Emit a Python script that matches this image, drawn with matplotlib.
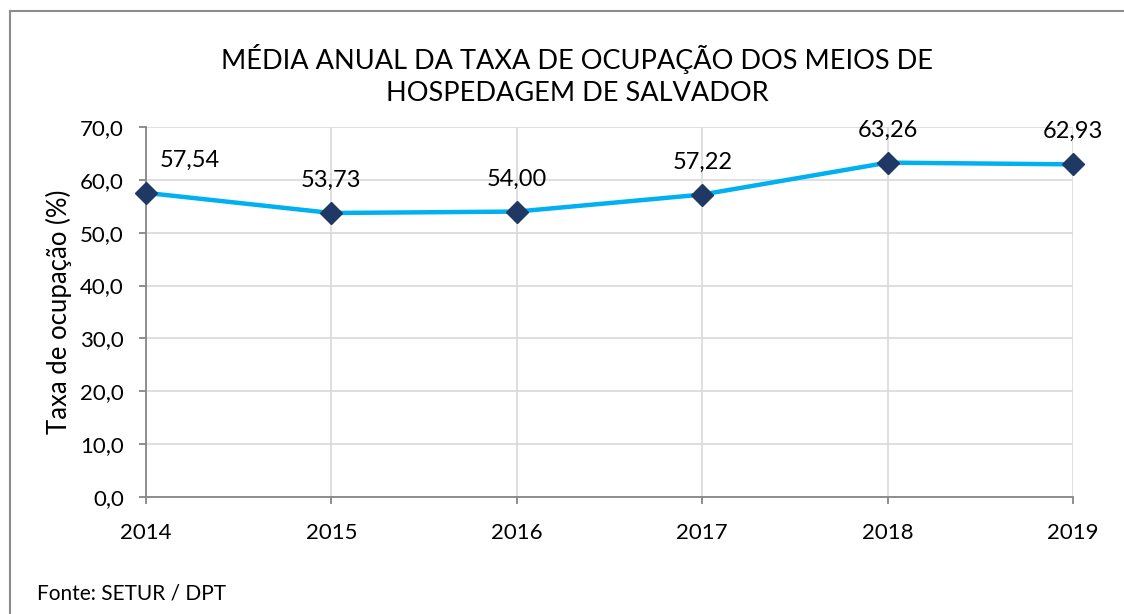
import matplotlib
matplotlib.use('Agg')
import matplotlib.pyplot as plt
from matplotlib.lines import Line2D

plt.rcParams['font.family'] = ['Lato', 'DejaVu Sans']

years = ['2014', '2015', '2016', '2017', '2018', '2019']
taxa = [57.54, 53.73, 54.00, 57.22, 63.26, 62.93]
labels = ['57,54', '53,73', '54,00', '57,22', '63,26', '62,93']
yticks = [0, 10, 20, 30, 40, 50, 60, 70]

W, H = 1124, 614
fig = plt.figure(figsize=(W / 100, H / 100), dpi=100)
ax = fig.add_axes([146 / W, 1 - 497 / H, (1073 - 146) / W, (497 - 127) / H])

x = list(range(len(years)))
ax.plot(x, taxa, color='#00B0F0', linewidth=3.2, marker='D', markersize=11,
        markerfacecolor='#1F3864', markeredgecolor='#1F3864', zorder=3, clip_on=False)

# data labels above points (first one nudged right like the original)
for i, (v, lab) in enumerate(zip(taxa, labels)):
    dx = 44 if i == 0 else 0
    ax.annotate(lab, (i, v), xytext=(dx * 0.72, 23.5), textcoords='offset points',
                ha='center', va='center', fontsize=17, color='black')

ax.set_xlim(0, len(years) - 1)
ax.set_ylim(0, 70)
ax.set_xticks(x)
ax.set_xticklabels(years)
ax.set_yticks(yticks)
ax.set_yticklabels([f'{t:.1f}'.replace('.', ',') for t in yticks])
ax.grid(True, color='#D9D9D9', linewidth=1.2)
ax.set_axisbelow(True)
for s in ['top', 'right']:
    ax.spines[s].set_visible(False)
for s in ['left', 'bottom']:
    ax.spines[s].set_color('#868686')
    ax.spines[s].set_linewidth(1.3)
ax.tick_params(axis='both', colors='#868686', length=5, width=1.3, labelsize=16,
               labelcolor='black')
ax.tick_params(axis='x', pad=14)
ax.tick_params(axis='y', pad=11)
ax.set_ylabel('Taxa de ocupação (%)', fontsize=18.5, labelpad=6)

fig.text(577 / W, 1 - 75 / H, 'MÉDIA ANUAL DA TAXA DE OCUPAÇÃO DOS MEIOS DE\nHOSPEDAGEM DE SALVADOR',
         ha='center', va='center', fontsize=19.5, linespacing=1.35)
fig.text(37 / W, 1 - 593 / H, 'Fonte: SETUR / DPT', ha='left', va='center', fontsize=15)

# outer frame (left and top visible)
fig.add_artist(Line2D([10 / W, 10 / W], [0, 1 - 11 / H], transform=fig.transFigure,
                      color='#8C8C8C', linewidth=1.5))
fig.add_artist(Line2D([10 / W, 1], [1 - 11 / H, 1 - 11 / H], transform=fig.transFigure,
                      color='#8C8C8C', linewidth=1.5))

fig.savefig('out.png', dpi=100)
